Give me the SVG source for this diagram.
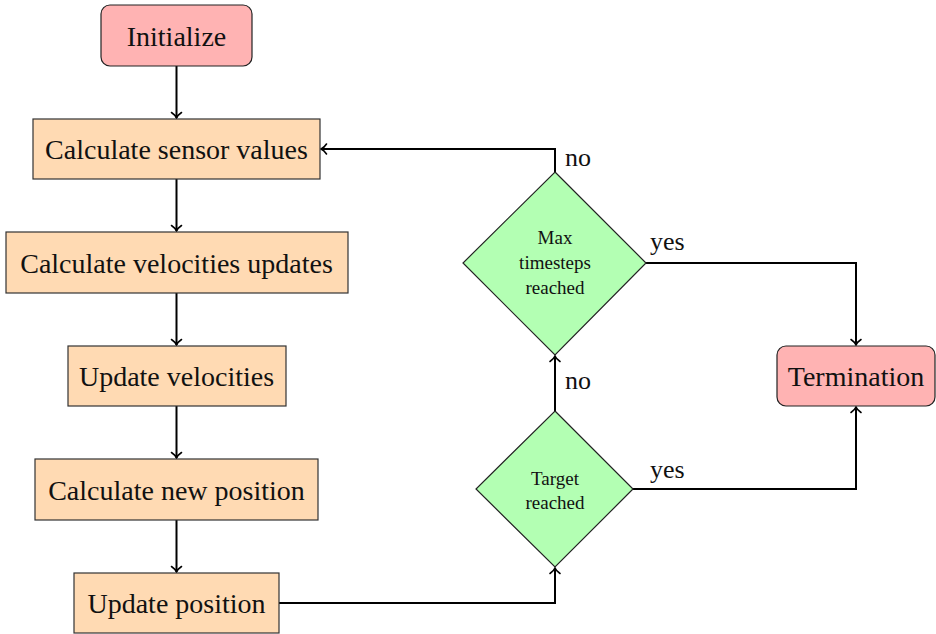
<svg xmlns="http://www.w3.org/2000/svg" width="936" height="634" viewBox="0 0 936 634">
  <style>
    .proc { fill: #ffdab3; stroke: #333; stroke-width: 1.2; }
    .term { fill: #ffb3b3; stroke: #222; stroke-width: 1.2; }
    .dec  { fill: #b3ffb3; stroke: #222; stroke-width: 1.2; }
    .lbl  { font-family: "Liberation Serif", serif; font-size: 28px; fill: #111; text-anchor: middle; }
    .small { font-family: "Liberation Serif", serif; font-size: 19px; fill: #111; text-anchor: middle; }
    .edge-lbl { font-family: "Liberation Serif", serif; font-size: 26px; fill: #111; }
    .conn { fill: none; stroke: #000; stroke-width: 2; marker-end: url(#head); }
  </style>
  <defs>
    <marker id="head" markerUnits="userSpaceOnUse" markerWidth="14" markerHeight="14" viewBox="-7 -7 14 14" refX="0" refY="0" orient="auto" overflow="visible">
      <path d="M-5.5,-5 C-3.5,-2 -1.2,-0.5 0,0 C-1.2,0.5 -3.5,2 -5.5,5" fill="none" stroke="#000" stroke-width="1.6" stroke-linecap="round"/>
    </marker>
  </defs>

  <!-- connectors -->
  <g id="connectors">
    <path class="conn" d="M176.5,66 V118"/>
    <path class="conn" d="M176.5,179 V231"/>
    <path class="conn" d="M176.5,293 V345"/>
    <path class="conn" d="M176.5,406 V458"/>
    <path class="conn" d="M176.5,520 V572"/>
    <path class="conn" d="M279,603 H555 V568"/>
    <path class="conn" d="M555,411 V356"/>
    <path class="conn" d="M555,172 V149 H321"/>
    <path class="conn" d="M646,263 H856 V345"/>
    <path class="conn" d="M633,489 H856 V407"/>
    <text class="edge-lbl" x="565" y="166">no</text>
    <text class="edge-lbl" x="565" y="389">no</text>
    <text class="edge-lbl" x="650" y="250">yes</text>
    <text class="edge-lbl" x="650" y="478">yes</text>
  </g>

  <!-- nodes -->
  <g id="initialize">
    <rect class="term" x="101" y="5" width="151" height="61" rx="9"/>
    <text class="lbl" x="176.5" y="45.5">Initialize</text>
  </g>
  <g id="sensor">
    <rect class="proc" x="33" y="119" width="287" height="60"/>
    <text class="lbl" x="176.5" y="159">Calculate sensor values</text>
  </g>
  <g id="velocity-updates">
    <rect class="proc" x="6" y="232" width="342" height="61"/>
    <text class="lbl" x="176.5" y="272.5">Calculate velocities updates</text>
  </g>
  <g id="update-velocities">
    <rect class="proc" x="68" y="346" width="218" height="60"/>
    <text class="lbl" x="176.5" y="386">Update velocities</text>
  </g>
  <g id="new-position">
    <rect class="proc" x="35" y="459" width="283" height="61"/>
    <text class="lbl" x="176.5" y="499.5">Calculate new position</text>
  </g>
  <g id="update-position">
    <rect class="proc" x="74" y="573" width="205" height="60"/>
    <text class="lbl" x="176.5" y="613">Update position</text>
  </g>
  <g id="max-timesteps">
    <polygon class="dec" points="555,172 646,263 555,355 463,263"/>
    <text class="small" x="555" y="244">Max</text>
    <text class="small" x="555" y="269">timesteps</text>
    <text class="small" x="555" y="294">reached</text>
  </g>
  <g id="target-reached">
    <polygon class="dec" points="555,411 633,489 555,567 476,489"/>
    <text class="small" x="555" y="485">Target</text>
    <text class="small" x="555" y="509">reached</text>
  </g>
  <g id="termination">
    <rect class="term" x="777" y="346" width="158" height="60" rx="9"/>
    <text class="lbl" x="856" y="386">Termination</text>
  </g>
</svg>
